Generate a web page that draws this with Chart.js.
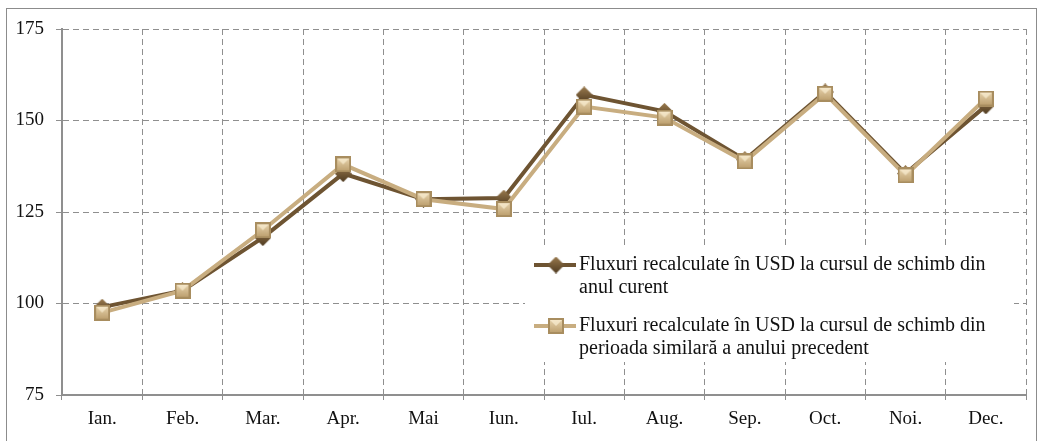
<!DOCTYPE html>
<html>
<head>
<meta charset="utf-8">
<script src="https://cdn.jsdelivr.net/npm/chart.js@4.4.1/dist/chart.umd.min.js"></script>
<style>
html,body{margin:0;padding:0;background:#fff;}
#wrap{position:relative;width:1038px;height:441px;}
</style>
</head>
<body>
<div id="wrap"><canvas id="c" width="1038" height="441"></canvas></div>
<script>
const categories = ['Ian.','Feb.','Mar.','Apr.','Mai','Iun.','Iul.','Aug.','Sep.','Oct.','Noi.','Dec.'];
const seriesCurrent = [99.0,103.5,118.0,135.5,128.5,128.8,157.0,152.5,139.3,157.8,135.5,154.0];
const seriesPrevious = [97.5,103.5,120.0,138.0,128.5,125.8,153.8,150.8,138.8,157.3,135.0,156.0];
const seriesLabels = [
  ['Fluxuri recalculate în USD la cursul de schimb din','anul curent'],
  ['Fluxuri recalculate în USD la cursul de schimb din','perioada similară a anului precedent']
];
const yTicks = [75,100,125,150,175];

const DARK = '#6e5432';
const LIGHT = '#c8ad80';
const FONT = '"Liberation Serif", "Times New Roman", serif';

function diamondMarker(size){
  const c = document.createElement('canvas');
  c.width = size; c.height = size;
  const x = c.getContext('2d');
  const h = size/2;
  x.beginPath();
  x.moveTo(h,0); x.lineTo(size,h); x.lineTo(h,size); x.lineTo(0,h); x.closePath();
  const g = x.createLinearGradient(0,0,0,size);
  g.addColorStop(0,'#9a7a4e'); g.addColorStop(1,'#4e3a20');
  x.fillStyle = g; x.fill();
  return c;
}
function squareMarker(size){
  const c = document.createElement('canvas');
  c.width = size; c.height = size;
  const x = c.getContext('2d');
  x.fillStyle = '#a88d5f'; x.fillRect(0,0,size,size);
  const g = x.createLinearGradient(0,0,0,size);
  g.addColorStop(0,'#ecd9b4'); g.addColorStop(1,'#b89a68');
  x.fillStyle = g; x.fillRect(2,2,size-4,size-4);
  x.fillStyle = 'rgba(255,245,220,0.6)';
  x.beginPath(); x.moveTo(2,2); x.lineTo(size-2,2); x.lineTo(size/2,size/2); x.closePath(); x.fill();
  return c;
}
const dMark = diamondMarker(17);
const sMark = squareMarker(16);

const legendPlugin = {
  id: 'customLegend',
  afterDatasetsDraw(chart){
    const ctx = chart.ctx;
    ctx.save();
    ctx.fillStyle = '#fff';
    ctx.fillRect(525,246,489,116);
    const entries = [
      {y:265, color:DARK, mark:dMark, lines:seriesLabels[0]},
      {y:326, color:LIGHT, mark:sMark, lines:seriesLabels[1]}
    ];
    ctx.font = '20px ' + FONT;
    ctx.textBaseline = 'middle';
    entries.forEach(e=>{
      ctx.strokeStyle = e.color; ctx.lineWidth = 4;
      ctx.beginPath(); ctx.moveTo(534,e.y); ctx.lineTo(576,e.y); ctx.stroke();
      ctx.drawImage(e.mark, 556 - e.mark.width/2, e.y - e.mark.height/2);
      ctx.fillStyle = '#111';
      e.lines.forEach((t,i)=>ctx.fillText(t,579,e.y + i*23));
    });
    ctx.restore();
  }
};
const framePlugin = {
  id: 'frame',
  afterDraw(chart){
    const ctx = chart.ctx;
    ctx.save();
    ctx.strokeStyle = '#8c8c8c'; ctx.lineWidth = 1;
    ctx.strokeRect(6.5,8.5,1030,440);
    ctx.restore();
  }
};

new Chart(document.getElementById('c'), {
  type: 'line',
  data: {
    labels: categories,
    datasets: [
      {label: seriesLabels[0].join(' '), data: seriesCurrent, borderColor: DARK, backgroundColor: DARK,
       borderWidth: 4, pointStyle: dMark, pointRadius: 8, order: 1, tension: 0},
      {label: seriesLabels[1].join(' '), data: seriesPrevious, borderColor: LIGHT, backgroundColor: LIGHT,
       borderWidth: 4, pointStyle: sMark, pointRadius: 8, order: 0, tension: 0}
    ]
  },
  options: {
    responsive: false,
    animation: false,
    layout: {padding: {left: 0, top: 29, right: 9, bottom: 0}},
    plugins: {legend: {display: false}, tooltip: {enabled: false}},
    scales: {
      x: {
        offset: true,
        grid: {offset: true, color: '#8f8f8f', tickLength: 5, tickBorderDash: [], tickColor: '#8f8f8f'},
        border: {color: '#8f8f8f', width: 2, dash: [6,4]},
        ticks: {color: '#111', font: {family: FONT, size: 19}, padding: 8},
        afterFit(s){ s.height = 46; }
      },
      y: {
        min: 75, max: 175,
        afterBuildTicks(s){ s.ticks = yTicks.map(v=>({value:v})); },
        grid: {color: '#8f8f8f', tickLength: 6, tickBorderDash: [], tickColor: '#8f8f8f'},
        border: {color: '#8f8f8f', width: 2, dash: [6,4]},
        ticks: {color: '#111', font: {family: FONT, size: 19}, padding: 12},
        afterFit(s){ s.width = 62; }
      }
    }
  },
  plugins: [legendPlugin, framePlugin]
});
</script>
</body>
</html>
